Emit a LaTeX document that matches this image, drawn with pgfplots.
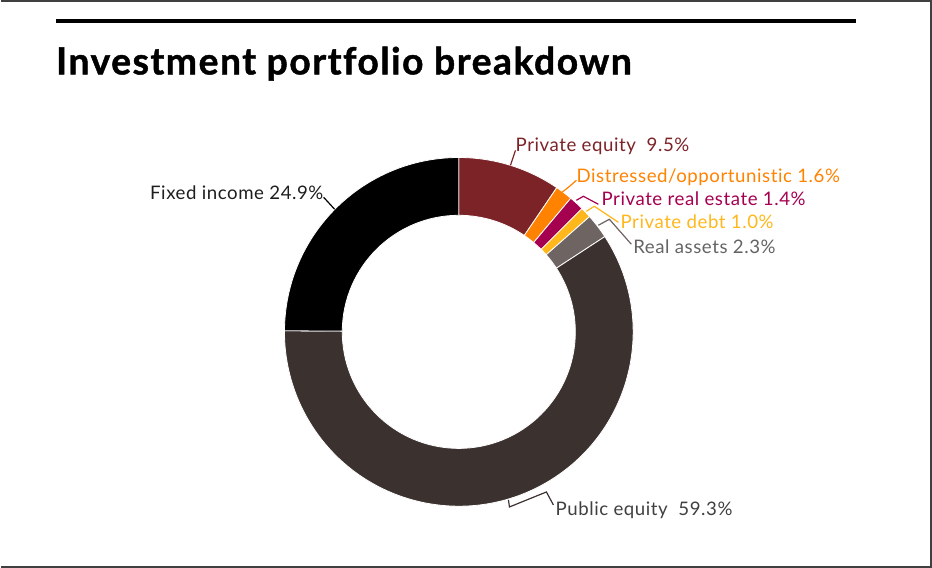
\documentclass[border=0pt]{standalone}
\usepackage{pgfplots}
\usepackage{pgfplotstable}
\usepackage{fontspec}
\setmainfont{Lato}[Ligatures=NoCommon]
\pgfplotsset{compat=1.18}

\definecolor{peq}{RGB}{124,35,40}
\definecolor{dis}{RGB}{255,130,0}
\definecolor{pre}{RGB}{165,0,80}
\definecolor{pde}{RGB}{255,183,27}
\definecolor{ras}{RGB}{110,100,97}
\definecolor{pub}{RGB}{59,49,47}
\definecolor{fix}{RGB}{0,0,0}
\definecolor{frame}{RGB}{64,64,64}

% share of each asset class, clockwise from 12 o'clock
\pgfplotstableread[col sep=comma]{
label,value,color
Private equity,9.5,peq
Distressed/opportunistic,1.6,dis
Private real estate,1.4,pre
Private debt,1.0,pde
Real assets,2.3,ras
Public equity,59.3,pub
Fixed income,24.9,fix
}\portfolio

\begin{document}
\begin{tikzpicture}
% axis units are pixels of the reference, y from the top
\begin{axis}[
    x=0.75pt, y=0.75pt,
    xmin=0, xmax=932, ymin=0, ymax=568,
    y dir=reverse,
    hide axis, clip=false,
]
% frame and rule
\draw[frame, line width=1.5pt] (axis cs:0,0.5) -- (axis cs:931,0.5) -- (axis cs:931,567) -- (axis cs:0,567);
\draw[black, line width=2.3pt] (axis cs:55,20.5) -- (axis cs:856,20.5);
\node[anchor=base west, inner sep=0pt, font=\fontsize{28}{30}\selectfont\bfseries\addfontfeatures{LetterSpace=4,FakeBold=1.2}]
    at (axis cs:55,74) {Investment portfolio breakdown};

% donut wedges
\pgfplotstablegetrowsof{\portfolio}
\pgfmathtruncatemacro\nrows{\pgfplotsretval-1}
\def\Rout{130.9pt}
\def\Rring{43.4pt}
\def\Rin{87.5pt}
\def\cum{0}
\pgfplotsforeachungrouped \i in {0,...,\nrows}{%
    \pgfplotstablegetelem{\i}{value}\of\portfolio \let\val\pgfplotsretval
    \pgfplotstablegetelem{\i}{color}\of\portfolio \let\col\pgfplotsretval
    \pgfmathsetmacro\aone{90-3.6*\cum}
    \pgfmathsetmacro\atwo{90-3.6*(\cum+\val)}
    \pgfmathsetmacro\aback{\atwo+180}
    \pgfmathsetmacro\cum{\cum+\val}
    \edef\temp{\noexpand\fill[\col, draw=white, line width=0.6pt]
        (axis cs:458.3,331.7) ++(\aone:\Rout)
        arc[start angle=\aone, end angle=\atwo, radius=\Rout]
        -- ++(\aback:\Rring)
        arc[start angle=\atwo, end angle=\aone, radius=\Rin] -- cycle;}%
    \temp
}

% leader lines
\draw[peq, line width=0.9pt] (axis cs:510,165) -- (axis cs:515,150);
\draw[dis, line width=0.9pt] (axis cs:559,194) -- (axis cs:568,187) -- (axis cs:576,180);
\draw[pre, line width=0.9pt] (axis cs:576,200) -- (axis cs:583,196) -- (axis cs:598,204);
\draw[pde, line width=0.9pt] (axis cs:586,211) -- (axis cs:594,206) -- (axis cs:618,222);
\draw[ras, line width=0.9pt] (axis cs:598,225) -- (axis cs:609,219) -- (axis cs:631,244);
\draw[pub, line width=0.9pt] (axis cs:508,500) -- (axis cs:509,507) -- (axis cs:546,492) -- (axis cs:553,505);
\draw[fix, line width=0.9pt] (axis cs:323,197) -- (axis cs:334,209);

% labels
\tikzset{lbl/.style={inner sep=0pt, font=\fontsize{14}{16}\selectfont\addfontfeatures{LetterSpace=3}}}
\node[lbl, anchor=base west, text=peq] at (axis cs:515,151) {Private equity\ \ 9.5\%};
\node[lbl, anchor=base west, text=dis] at (axis cs:576,182.3) {Distressed/opportunistic 1.6\%};
\node[lbl, anchor=base west, text=pre] at (axis cs:601,205.7) {Private real estate 1.4\%};
\node[lbl, anchor=base west, text=pde] at (axis cs:620,228.3) {Private debt 1.0\%};
\node[lbl, anchor=base west, text={rgb,255:red,100;green,100;blue,100}] at (axis cs:632.7,253.3) {Real assets 2.3\%};
\node[lbl, anchor=base west, text={rgb,255:red,64;green,64;blue,64}] at (axis cs:555,515.7) {Public equity\ \ 59.3\%};
\node[lbl, anchor=base east, text={rgb,255:red,30;green,30;blue,30}] at (axis cs:323,199) {Fixed income 24.9\%};
\end{axis}
\end{tikzpicture}
\end{document}
